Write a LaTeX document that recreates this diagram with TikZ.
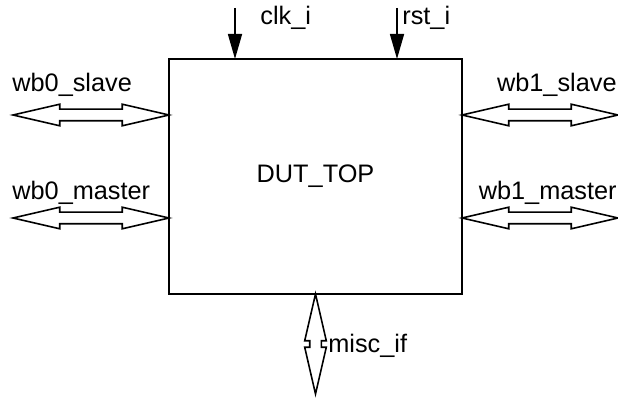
\documentclass[tikz,border=0pt]{standalone}
\usepackage{fontspec}
\setmainfont{Liberation Sans}
\usetikzlibrary{arrows.meta, shapes.arrows}

\begin{document}
\begin{tikzpicture}[
  block/.style={draw, line width=1.1pt, minimum width=5.86cm, minimum height=4.70cm, inner sep=0pt, outer sep=0pt},
  bus/.style={double arrow, draw, line width=0.9pt, minimum width=0.4cm, minimum height=3.12cm,
    double arrow head extend=0.1cm, double arrow tip angle=26, inner sep=0.1cm, outer sep=0pt},
  >={Triangle[length=0.5cm, width=0.28cm]},
  sig/.style={->, line width=0.9pt},
  lbl/.style={inner sep=0pt, font=\fontsize{14.4}{17}\selectfont}
]
\useasboundingbox (0,0) rectangle (12.36,7.94);

% --- Blok glowny ---
\node[block, font=\fontsize{14.4}{17}\selectfont] (dut) at (6.31,4.41) {DUT\_TOP};

% --- Wejscia zegara i resetu ---
\coordinate (clkin) at (4.70,7.78);
\coordinate (rstin) at (7.94,7.78);
\draw[sig] (clkin) -- (dut.north -| clkin);
\draw[sig] (rstin) -- (dut.north -| rstin);
\node[lbl, anchor=base west] (clk) at (5.20,7.44) {clk\_i};
\node[lbl, anchor=base west] (rst) at (8.04,7.44) {rst\_i};

% --- Magistrale wishbone (lewa strona) ---
\node[bus, anchor=east] (wb0s) at (dut.west |- 0,5.64) {};
\node[bus, anchor=east] (wb0m) at (dut.west |- 0,3.58) {};
\node[lbl, anchor=base west] (wb0sl) at (0.24,6.10) {wb0\_slave};
\node[lbl, anchor=base west] (wb0ml) at (0.24,3.94) {wb0\_master};

% --- Magistrale wishbone (prawa strona) ---
\node[bus, anchor=west] (wb1s) at (dut.east |- 0,5.64) {};
\node[bus, anchor=west] (wb1m) at (dut.east |- 0,3.58) {};
\node[lbl, anchor=base east] (wb1sl) at (12.34,6.10) {wb1\_slave};
\node[lbl, anchor=base east] (wb1ml) at (12.34,3.94) {wb1\_master};

% --- Interfejs misc ---
\node[bus, rotate=90, anchor=east, minimum height=2.0cm] (misc) at (dut.south) {};
\node[lbl, anchor=base west] (miscl) at (6.56,0.90) {misc\_if};

\end{tikzpicture}
\end{document}
